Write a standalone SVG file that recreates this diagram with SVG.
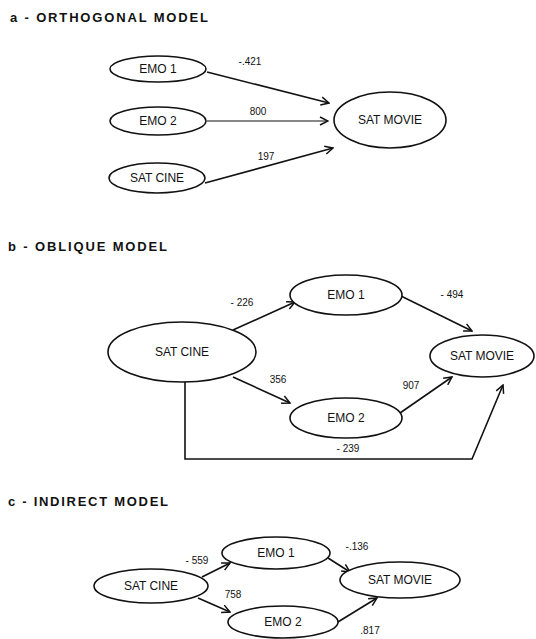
<svg xmlns="http://www.w3.org/2000/svg" width="536" height="639" viewBox="0 0 536 639">
  <style>
    .bg { fill: #ffffff; }
    .node ellipse { fill: #ffffff; stroke: #111; stroke-width: 1.6; }
    .node text { font-family: "Liberation Sans", "DejaVu Sans", sans-serif; font-size: 12px; fill: #111; text-anchor: middle; }
    .title { font-family: "Liberation Sans", "DejaVu Sans", sans-serif; font-size: 13px; font-weight: bold; fill: #111; }
    .edge { fill: none; stroke: #111; stroke-width: 1.6; marker-end: url(#arrow); }
    .thin { stroke-width: 1; }
    .lbl { font-family: "Liberation Sans", "DejaVu Sans", sans-serif; font-size: 10px; fill: #111; text-anchor: middle; }
  </style>
  <defs>
    <marker id="arrow" viewBox="0 0 10 10" refX="9" refY="5" markerWidth="10" markerHeight="10" markerUnits="userSpaceOnUse" orient="auto">
      <path d="M1,1 L9,5 L1,9" fill="none" stroke="#111" stroke-width="1.5"/>
    </marker>
  </defs>
  <rect class="bg" x="0" y="0" width="536" height="639"/>

  <!-- section titles -->
  <text class="title" x="10" y="22" textLength="198" lengthAdjust="spacing">a - ORTHOGONAL MODEL</text>
  <text class="title" x="8" y="251" textLength="159" lengthAdjust="spacing">b - OBLIQUE MODEL</text>
  <text class="title" x="8" y="506" textLength="160" lengthAdjust="spacing">c - INDIRECT MODEL</text>

  <!-- connectors -->
  <g id="connectors">
    <!-- a: orthogonal -->
    <line class="edge" x1="207" y1="72" x2="329" y2="103"/>
    <line class="edge thin" x1="207" y1="121" x2="328" y2="121"/>
    <line class="edge" x1="205" y1="183" x2="333" y2="148"/>
    <!-- b: oblique -->
    <line class="edge" x1="233" y1="330" x2="295" y2="302"/>
    <line class="edge" x1="233" y1="377" x2="290" y2="403"/>
    <line class="edge" x1="401" y1="296" x2="472" y2="331"/>
    <line class="edge" x1="400" y1="413" x2="452" y2="377"/>
    <polyline class="edge" points="185,382 185,459 472,459 503,385"/>
    <!-- c: indirect -->
    <line class="edge" x1="202" y1="577" x2="230" y2="563"/>
    <line class="edge" x1="198" y1="598" x2="230" y2="612"/>
    <line class="edge" x1="328" y1="558" x2="350" y2="572"/>
    <line class="edge" x1="333" y1="625" x2="377" y2="598"/>
  </g>

  <!-- path coefficients -->
  <g id="labels">
    <text class="lbl" x="250" y="65">-.421</text>
    <text class="lbl" x="258" y="115">800</text>
    <text class="lbl" x="266" y="160">197</text>
    <text class="lbl" x="242" y="306">- 226</text>
    <text class="lbl" x="452" y="298">- 494</text>
    <text class="lbl" x="278" y="383">356</text>
    <text class="lbl" x="411" y="389">907</text>
    <text class="lbl" x="348" y="452">- 239</text>
    <text class="lbl" x="197" y="564">- 559</text>
    <text class="lbl" x="357" y="550">-.136</text>
    <text class="lbl" x="233" y="598">758</text>
    <text class="lbl" x="370" y="634">.817</text>
  </g>

  <!-- a: orthogonal model nodes -->
  <g id="a-emo1" class="node">
    <ellipse cx="158" cy="69" rx="48" ry="13"/>
    <text x="158" y="73">EMO 1</text>
  </g>
  <g id="a-emo2" class="node">
    <ellipse cx="158" cy="121" rx="48" ry="14"/>
    <text x="158" y="125">EMO 2</text>
  </g>
  <g id="a-satcine" class="node">
    <ellipse cx="157" cy="178" rx="48" ry="15"/>
    <text x="157" y="182">SAT CINE</text>
  </g>
  <g id="a-satmovie" class="node">
    <ellipse cx="390" cy="120" rx="56" ry="28"/>
    <text x="390" y="124">SAT MOVIE</text>
  </g>

  <!-- b: oblique model nodes -->
  <g id="b-satcine" class="node">
    <ellipse cx="182" cy="352" rx="74" ry="30"/>
    <text x="182" y="356">SAT CINE</text>
  </g>
  <g id="b-emo1" class="node">
    <ellipse cx="346" cy="295" rx="56" ry="20"/>
    <text x="346" y="299">EMO 1</text>
  </g>
  <g id="b-emo2" class="node">
    <ellipse cx="346" cy="418" rx="56" ry="20"/>
    <text x="346" y="422">EMO 2</text>
  </g>
  <g id="b-satmovie" class="node">
    <ellipse cx="482" cy="356" rx="52" ry="21"/>
    <text x="482" y="360">SAT MOVIE</text>
  </g>

  <!-- c: indirect model nodes -->
  <g id="c-satcine" class="node">
    <ellipse cx="151" cy="586" rx="57" ry="17"/>
    <text x="151" y="590">SAT CINE</text>
  </g>
  <g id="c-emo1" class="node">
    <ellipse cx="276" cy="553" rx="54" ry="16"/>
    <text x="276" y="557">EMO 1</text>
  </g>
  <g id="c-emo2" class="node">
    <ellipse cx="283" cy="622" rx="55" ry="16"/>
    <text x="283" y="626">EMO 2</text>
  </g>
  <g id="c-satmovie" class="node">
    <ellipse cx="400" cy="580" rx="60" ry="18"/>
    <text x="400" y="584">SAT MOVIE</text>
  </g>
</svg>
